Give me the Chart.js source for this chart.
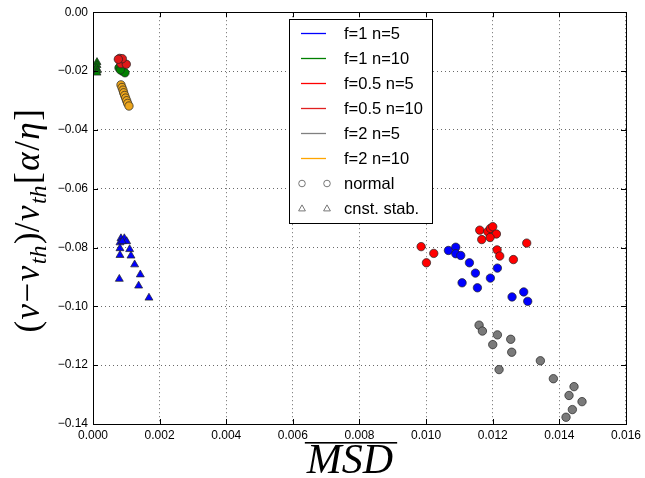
<!DOCTYPE html>
<html>
<head>
<meta charset="utf-8">
<script src="https://cdn.jsdelivr.net/npm/chart.js@4.4.0/dist/chart.umd.min.js"></script>
<style>
  html, body { margin: 0; padding: 0; background: #fff; }
  #wrap { width: 645px; height: 478px; position: relative; }
</style>
</head>
<body>
<div id="wrap"><canvas id="chart"></canvas></div>
<script>
// 軸の目盛り
const xTicks = [0, 0.002, 0.004, 0.006, 0.008, 0.010, 0.012, 0.014, 0.016];
const yTicks = [0, -0.02, -0.04, -0.06, -0.08, -0.10, -0.12, -0.14];

// 凡例ラベル
const legendLabels = ['f=1 n=5', 'f=1 n=10', 'f=0.5 n=5', 'f=0.5 n=10', 'f=2 n=5', 'f=2 n=10'];
const markerLabels = ['normal', 'cnst. stab.'];

// f=1 n=5 (normal)
const f1n5X = [0.01067, 0.01089, 0.01089, 0.01104, 0.01130, 0.01148, 0.01108, 0.01154, 0.01193, 0.01214, 0.01258, 0.01293, 0.01305];
const f1n5Y = [-0.0810, -0.0799, -0.0821, -0.0827, -0.0852, -0.0887, -0.0920, -0.0937, -0.0904, -0.0870, -0.0968, -0.0951, -0.0983];
// f=1 n=5 (cnst. stab.)
const f1n5sX = [0.00084, 0.00094, 0.00101, 0.00081, 0.00088, 0.00081, 0.00110, 0.00081, 0.00114, 0.00125, 0.00142, 0.00079, 0.00137, 0.00168];
const f1n5sY = [-0.0769, -0.0769, -0.0779, -0.0783, -0.0779, -0.0803, -0.0806, -0.0826, -0.0828, -0.0858, -0.0892, -0.0907, -0.0930, -0.0971];
// f=1 n=10 (normal)
const f1n10X = [0.00078, 0.00088, 0.00096, 0.00082];
const f1n10Y = [-0.0189, -0.0200, -0.0206, -0.0196];
// f=1 n=10 (cnst. stab.)
const f1n10sX = [0.00012, 0.00012, 0.00011, 0.00013, 0.00012];
const f1n10sY = [-0.0170, -0.0180, -0.0190, -0.0198, -0.0206];
// f=0.5 n=5 (normal)
const f05n5X = [0.01161, 0.01185, 0.01193, 0.01200, 0.01211, 0.01167, 0.01192, 0.00985, 0.01023, 0.01001, 0.01213, 0.01221, 0.01262, 0.01302];
const f05n5Y = [-0.0741, -0.0746, -0.0735, -0.0729, -0.0754, -0.0773, -0.0766, -0.0797, -0.0820, -0.0852, -0.0808, -0.0829, -0.0841, -0.0785];
// f=0.5 n=10 (normal)
const f05n10X = [0.00080, 0.00086, 0.00084, 0.00100, 0.00088, 0.00076];
const f05n10Y = [-0.0157, -0.0166, -0.0175, -0.0177, -0.0158, -0.0160];
// f=2 n=5 (normal)
const f2n5X = [0.01159, 0.01169, 0.01214, 0.01200, 0.01254, 0.01257, 0.01219, 0.01343, 0.01382, 0.01444, 0.01429, 0.01468, 0.01439, 0.01420];
const f2n5Y = [-0.1064, -0.1084, -0.1097, -0.1130, -0.1112, -0.1156, -0.1215, -0.1185, -0.1246, -0.1273, -0.1303, -0.1324, -0.1351, -0.1377];
// f=2 n=10 (normal)
const f2n10X = [0.00084, 0.00087, 0.00090, 0.00092, 0.00095, 0.00098, 0.00101, 0.00104, 0.00108];
const f2n10Y = [-0.0247, -0.0256, -0.0265, -0.0274, -0.0283, -0.0292, -0.0301, -0.0310, -0.0319];

function pts(xs, ys) {
    return xs.map((x, i) => ({ x: x, y: ys[i] }));
}

const COL = {
    blue: '#0000ff', green: '#008000', red: '#ff0000', darkred: '#e01818',
    gray: '#7a7a7a', orange: '#eca51c'
};
const legendColors = ['#0000ff', '#008000', '#ff0000', '#e02020', '#808080', '#ffa500'];

function ds(data, color, style) {
    return {
        data: data,
        backgroundColor: color,
        borderColor: '#222',
        borderWidth: 0.7,
        pointStyle: style,
        pointRadius: style === 'triangle' ? 4.6 : 4.2,
        pointHoverRadius: 4,
        showLine: false
    };
}

// 先頭ほど手前に描画される
const datasets = [
    ds(pts(f05n10X, f05n10Y), COL.darkred, 'circle'),
    ds(pts(f1n10X, f1n10Y), COL.green, 'circle'),
    ds(pts(f1n10sX, f1n10sY), COL.green, 'triangle'),
    ds(pts(f2n10X, f2n10Y), COL.orange, 'circle'),
    ds(pts(f05n5X, f05n5Y), COL.red, 'circle'),
    ds(pts(f1n5X, f1n5Y), COL.blue, 'circle'),
    ds(pts(f1n5sX, f1n5sY), COL.blue, 'triangle'),
    ds(pts(f2n5X, f2n5Y), COL.gray, 'circle')
];

/**
 * 枠線・内向き目盛り・軸タイトル・凡例を描画するプラグイン
 */
const decorPlugin = {
    id: 'decor',
    afterDatasetsDraw(chart) {
        const ctx = chart.ctx;
        const a = chart.chartArea;
        const sx = chart.scales.x, sy = chart.scales.y;
        ctx.save();
        ctx.strokeStyle = '#000';
        ctx.lineWidth = 1;
        ctx.setLineDash([]);
        ctx.strokeRect(Math.round(a.left) + 0.5, Math.round(a.top) + 0.5,
            Math.round(a.right - a.left), Math.round(a.bottom - a.top));
        // 内向きの目盛り
        ctx.beginPath();
        xTicks.forEach(v => {
            const px = Math.round(sx.getPixelForValue(v)) + 0.5;
            ctx.moveTo(px, a.bottom); ctx.lineTo(px, a.bottom - 5);
            ctx.moveTo(px, a.top); ctx.lineTo(px, a.top + 5);
        });
        yTicks.forEach(v => {
            const py = Math.round(sy.getPixelForValue(v)) + 0.5;
            ctx.moveTo(a.left, py); ctx.lineTo(a.left + 5, py);
            ctx.moveTo(a.right, py); ctx.lineTo(a.right - 5, py);
        });
        ctx.stroke();
        ctx.restore();
    },
    afterDraw(chart) {
        const ctx = chart.ctx;
        const a = chart.chartArea;
        ctx.save();
        ctx.fillStyle = '#000';

        // 縦軸タイトル (v−v_th)/v_th[α/η]
        const big = 35, small = 24;
        const parts = [
            { t: '(', f: 'normal', s: big, d: 0 },
            { t: 'v', f: 'italic', s: big, d: 0 },
            { t: '\u2212', f: 'normal', s: big, d: 0 },
            { t: 'v', f: 'italic', s: big, d: 0 },
            { t: 'th', f: 'italic', s: small, d: 7 },
            { t: ')/', f: 'normal', s: big, d: 0 },
            { t: 'v', f: 'italic', s: big, d: 0 },
            { t: 'th', f: 'italic', s: small, d: 7 },
            { t: '[', f: 'normal', s: big, d: 0 },
            { t: '\u03b1', f: 'italic', s: big, d: 0 },
            { t: '/', f: 'normal', s: big, d: 0 },
            { t: '\u03b7', f: 'italic', s: big, d: 0 },
            { t: ']', f: 'normal', s: big, d: 0 }
        ];
        const font = p => `${p.f} ${p.s}px "Liberation Serif", serif`;
        let total = 0;
        parts.forEach(p => { ctx.font = font(p); p.w = ctx.measureText(p.t).width + 1.5; total += p.w; });
        ctx.translate(39, (a.top + a.bottom) / 2 + 2);
        ctx.rotate(-Math.PI / 2);
        ctx.textBaseline = 'alphabetic';
        ctx.textAlign = 'left';
        let cx = -total / 2;
        parts.forEach(p => {
            ctx.font = font(p);
            ctx.fillText(p.t, cx, p.d);
            cx += p.w;
        });
        ctx.setTransform(1, 0, 0, 1, 0, 0);
        ctx.scale(chart.currentDevicePixelRatio, chart.currentDevicePixelRatio);

        // 横軸タイトル MSD（上線付き）
        ctx.font = 'italic 42px "Liberation Serif", serif';
        ctx.textAlign = 'center';
        ctx.textBaseline = 'alphabetic';
        const xc = 350;
        ctx.fillText('MSD', xc, 473);
        const mw = ctx.measureText('MSD').width;
        ctx.fillRect(xc - mw / 2 - 2, 442, mw + 6, 1.6);

        // 凡例
        const lx = 289.5, ly = 19.5, lw = 143, lh = 204;
        ctx.fillStyle = '#fff';
        ctx.fillRect(lx, ly, lw, lh);
        ctx.strokeStyle = '#000';
        ctx.lineWidth = 1;
        ctx.strokeRect(lx, ly, lw, lh);
        ctx.font = '16.5px "Liberation Sans", Arial, sans-serif';
        ctx.textAlign = 'left';
        ctx.textBaseline = 'middle';
        let ry = 33.5;
        legendLabels.forEach((lab, i) => {
            ctx.strokeStyle = legendColors[i];
            ctx.lineWidth = 1.3;
            ctx.beginPath();
            ctx.moveTo(301, ry); ctx.lineTo(326, ry);
            ctx.stroke();
            ctx.fillStyle = '#000';
            ctx.fillText(lab, 344, ry + 1);
            ry += 25;
        });
        ctx.strokeStyle = '#777';
        ctx.lineWidth = 1;
        markerLabels.forEach((lab, i) => {
            [302, 327].forEach(mx => {
                ctx.beginPath();
                if (i === 0) {
                    ctx.arc(mx, ry, 3.3, 0, Math.PI * 2);
                } else {
                    ctx.moveTo(mx, ry - 3.6);
                    ctx.lineTo(mx + 3.4, ry + 2.4);
                    ctx.lineTo(mx - 3.4, ry + 2.4);
                    ctx.closePath();
                }
                ctx.stroke();
            });
            ctx.fillStyle = '#000';
            ctx.fillText(lab, 344, ry + 1);
            ry += 25;
        });
        ctx.restore();
    }
};

const tickFont = { family: '"Liberation Sans", Arial, sans-serif', size: 12 };

new Chart(document.getElementById('chart').getContext('2d'), {
    type: 'scatter',
    data: { datasets: datasets },
    options: {
        responsive: true,
        maintainAspectRatio: false,
        animation: false,
        layout: { padding: { left: 0, top: 11, right: 17, bottom: 0 } },
        plugins: {
            legend: { display: false },
            tooltip: { enabled: false }
        },
        scales: {
            x: {
                type: 'linear',
                min: 0,
                max: 0.016,
                afterBuildTicks: s => { s.ticks = xTicks.map(v => ({ value: v })); },
                afterFit: s => { s.height = 54; },
                grid: { color: '#444', lineWidth: 0.8, drawTicks: false },
                border: { display: false, dash: [1, 3] },
                ticks: {
                    color: '#000',
                    font: tickFont,
                    padding: 4,
                    maxRotation: 0,
                    autoSkip: false,
                    callback: v => v.toFixed(3)
                }
            },
            y: {
                type: 'linear',
                min: -0.14,
                max: 0,
                afterBuildTicks: s => { s.ticks = yTicks.map(v => ({ value: v })); },
                afterFit: s => { s.width = 93; },
                grid: { color: '#444', lineWidth: 0.8, drawTicks: false },
                border: { display: false, dash: [1, 3] },
                ticks: {
                    color: '#000',
                    font: tickFont,
                    padding: 5,
                    autoSkip: false,
                    callback: v => Math.abs(v) < 1e-9 ? '0.00' : '\u2212' + Math.abs(v).toFixed(2)
                }
            }
        }
    },
    plugins: [decorPlugin]
});
</script>
</body>
</html>
